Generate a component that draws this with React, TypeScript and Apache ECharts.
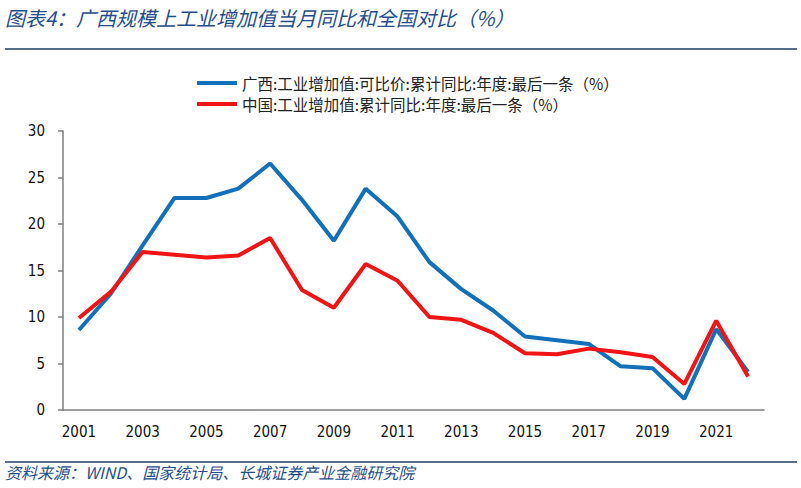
import React, { useEffect, useRef } from "react";
import * as echarts from "echarts";

const years = [
  "2001", "2002", "2003", "2004", "2005", "2006", "2007", "2008", "2009", "2010", "2011",
  "2012", "2013", "2014", "2015", "2016", "2017", "2018", "2019", "2020", "2021", "2022",
];
const guangxi = [8.6, 12.5, 17.7, 22.8, 22.8, 23.8, 26.5, 22.6, 18.2, 23.8, 20.8, 15.9, 13.0, 10.7, 7.9, 7.5, 7.1, 4.7, 4.5, 1.2, 8.7, 4.1];
const china = [9.9, 12.7, 17.0, 16.7, 16.4, 16.6, 18.5, 12.9, 11.0, 15.7, 13.9, 10.0, 9.7, 8.3, 6.1, 6.0, 6.6, 6.2, 5.7, 2.8, 9.6, 3.6];
const seriesNames = [
  "广西:工业增加值:可比价:累计同比:年度:最后一条（%）",
  "中国:工业增加值:累计同比:年度:最后一条（%）",
];
const titleText = "图表4：广西规模上工业增加值当月同比和全国对比（%）";
const sourceText = "资料来源：WIND、国家统计局、长城证券产业金融研究院";

const CJK = "'Noto Sans CJK SC', 'Noto Sans', sans-serif";
const NUM = "'DejaVu Sans Condensed', 'DejaVu Sans', sans-serif";
const BLUE = "#1170b9";
const RED = "#f01414";
const NAVY = "#1f4e8c";

export default function App() {
  const ref = useRef<HTMLDivElement>(null);
  useEffect(() => {
    document.body.style.margin = "0";
    const chart = echarts.init(ref.current!, null, { renderer: "svg" });
    chart.setOption({
      animation: false,
      backgroundColor: "#ffffff",
      graphic: [
        {
          type: "text",
          left: 5,
          top: 7,
          style: { text: titleText, fill: NAVY, font: `italic 20px ${CJK}` },
        },
        {
          type: "line",
          shape: { x1: 5, y1: 49, x2: 797, y2: 49 },
          style: { stroke: "#1f3f66", lineWidth: 1.5 },
        },
        {
          type: "line",
          shape: { x1: 5, y1: 462, x2: 797, y2: 462 },
          style: { stroke: "#1f3f66", lineWidth: 1.5 },
        },
        {
          type: "text",
          left: 5,
          top: 464,
          style: { text: sourceText, fill: NAVY, font: `italic 16px ${CJK}` },
        },
      ],
      legend: {
        orient: "vertical",
        left: 192,
        top: 70,
        itemWidth: 40,
        itemHeight: 4,
        itemGap: 5,
        icon: "rect",
        textStyle: { fontFamily: CJK, fontSize: 15.5, color: "#222", lineHeight: 16 },
        data: seriesNames,
      },
      grid: { left: 63, right: 37, top: 131, bottom: 78 },
      xAxis: {
        type: "category",
        data: years,
        boundaryGap: true,
        axisLine: { lineStyle: { color: "#7f7f7f", width: 1.5 } },
        axisTick: { interval: 1, length: 5, lineStyle: { color: "#7f7f7f", width: 1.5 } },
        axisLabel: { interval: 1, margin: 14, fontFamily: NUM, fontSize: 15, color: "#111" },
        splitLine: { show: false },
      },
      yAxis: {
        type: "value",
        min: 0,
        max: 30,
        interval: 5,
        axisLine: { show: true, lineStyle: { color: "#7f7f7f", width: 1.5 } },
        axisTick: { show: true, length: 5, lineStyle: { color: "#7f7f7f", width: 1.5 } },
        axisLabel: { margin: 18, fontFamily: NUM, fontSize: 15, color: "#111" },
        splitLine: { show: false },
      },
      series: [
        {
          name: seriesNames[0],
          type: "line",
          data: guangxi,
          symbol: "none",
          color: BLUE,
          lineStyle: { color: BLUE, width: 4 },
        },
        {
          name: seriesNames[1],
          type: "line",
          data: china,
          symbol: "none",
          color: RED,
          lineStyle: { color: RED, width: 4 },
        },
      ],
    });
    return () => chart.dispose();
  }, []);
  return <div ref={ref} style={{ width: 801, height: 488, position: "absolute", left: 0, top: 0 }} />;
}
